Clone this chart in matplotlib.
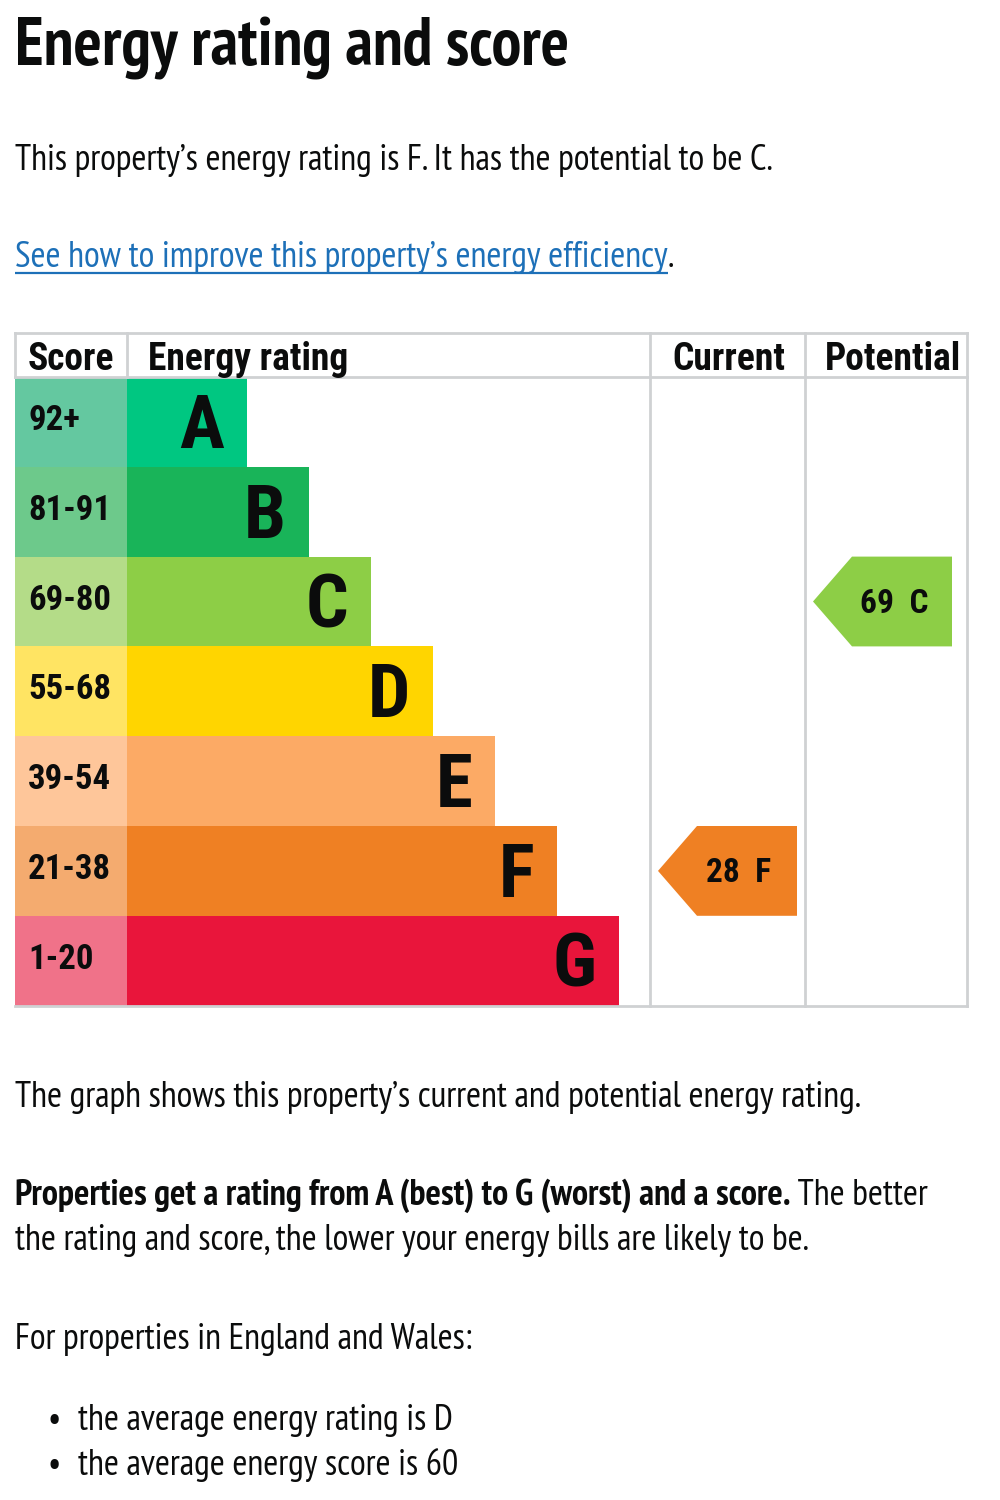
import matplotlib
matplotlib.use('Agg')
import matplotlib.pyplot as plt
from matplotlib.patches import Polygon, Rectangle
from matplotlib import font_manager

# energy bands, best to worst
bands = ['A', 'B', 'C', 'D', 'E', 'F', 'G']
score_ranges = ['92+', '81-91', '69-80', '55-68', '39-54', '21-38', '1-20']
band_colours = ['#00c781', '#19b459', '#8dce46', '#ffd500', '#fcaa65', '#ef8023', '#e9153b']
score_colours = ['#64c8a0', '#6dc98b', '#b4dc88', '#ffe463', '#fec69a', '#f4ab6f', '#f07289']
headers = ['Score', 'Energy rating', 'Current', 'Potential']

current_score, current_band = 28, 'F'
potential_score, potential_band = 69, 'C'
average_band, average_score = 'D', 60


def pick_font(names):
    ''' first installed family of the list '''
    for n in names:
        try:
            font_manager.findfont(n, fallback_to_default=False)
            return n
        except Exception:
            pass
    return 'DejaVu Sans'


body = pick_font(['PT Sans Narrow', 'Roboto Condensed', 'Liberation Sans Narrow', 'Liberation Sans'])
table = pick_font(['Roboto Condensed', 'Liberation Sans Narrow', 'Liberation Sans'])

fig = plt.figure(figsize=(10, 15), dpi=100)
ax = fig.add_axes([0, 0, 1, 1])
ax.set_xlim(0, 1000)
ax.set_ylim(1500, 0)
ax.axis('off')

black = '#0b0c0c'
grey = '#cfd1d3'
link = '#1d70b8'
fs = 26


def line(x, y, s, **kw):
    kw.setdefault('fontsize', fs)
    kw.setdefault('family', body)
    kw.setdefault('color', black)
    return ax.text(x, y, s, va='baseline', **kw)


def right_end(t):
    fig.canvas.draw()
    return t.get_window_extent(fig.canvas.get_renderer()).x1


# --- text above the chart
line(15, 66, 'Energy rating and score', fontsize=48, fontweight='bold')
line(15, 170, "This property\u2019s energy rating is F. It has the potential to be C.")
t = line(15, 267, "See how to improve this property\u2019s energy efficiency", color=link)
x1 = right_end(t)
ax.plot([15, x1], [273, 273], color=link, lw=1.6, solid_capstyle='butt')
line(x1, 267, '.')

# --- table layout
left, score_w = 15, 112
bar0 = left + score_w
top, head_h, row_h = 333, 44, 89.8
cur_x, pot_x, right = 650, 805, 967
bar_base, bar_step = 120, 62
bottom = top + head_h + row_h * len(bands)

for i, b in enumerate(bands):
    y = top + head_h + i * row_h
    ax.add_patch(Rectangle((left, y), score_w, row_h, color=score_colours[i], lw=0))
    ax.barh(y + row_h / 2, bar_base + bar_step * i, left=bar0, height=row_h,
            color=band_colours[i], lw=0)
    ax.text(28, y + 53, score_ranges[i], fontsize=25, fontweight='bold',
            family=table, color=black, va='baseline')
    ax.text(bar0 + bar_base + bar_step * i - 23, y + 71, b, fontsize=54,
            fontweight='bold', family=table, color=black, va='baseline', ha='right')

# grid lines
ax.plot([left, right], [top, top], color=grey, lw=2)
ax.plot([left, right], [top + head_h, top + head_h], color=grey, lw=2)
ax.plot([left, right], [bottom, bottom], color=grey, lw=2)
ax.plot([left, left], [top, top + head_h], color=grey, lw=2)
ax.plot([bar0, bar0], [top, top + head_h], color=grey, lw=2)
for x in [cur_x, pot_x, right]:
    ax.plot([x, x], [top, bottom], color=grey, lw=2)

hx = [28, 148, 672, 825]
for x, h in zip(hx, headers):
    ax.text(x, 370, h, fontsize=27, fontweight='bold', family=table,
            color=black, va='baseline')


def arrow(col_left, score, band):
    ''' pointer for a score, drawn in the row of its band '''
    i = bands.index(band)
    y0 = top + head_h + i * row_h
    y1 = y0 + row_h
    tip = col_left + 8
    body_x = tip + 39
    end = tip + 139
    ax.add_patch(Polygon([(tip, (y0 + y1) / 2), (body_x, y0), (end, y0), (end, y1), (body_x, y1)],
                         closed=True, color=band_colours[i], lw=0))
    ax.text((body_x + end) / 2 - 8, y0 + 56, f'{score}  {band}', fontsize=24,
            fontweight='bold', family=table, color=black, va='baseline', ha='center')


arrow(cur_x, current_score, current_band)
arrow(pot_x, potential_score, potential_band)

# --- text below the chart
line(15, 1107, "The graph shows this property\u2019s current and potential energy rating.")
tb = line(15, 1205, 'Properties get a rating from A (best) to G (worst) and a score.',
          fontweight='bold')
line(right_end(tb), 1205, ' The better')
line(15, 1250, 'the rating and score, the lower your energy bills are likely to be.')
line(15, 1349, 'For properties in England and Wales:')
line(47, 1430, '\u2022')
line(78, 1430, f'the average energy rating is {average_band}')
line(47, 1475, '\u2022')
line(78, 1475, f'the average energy score is {average_score}')

fig.savefig('out.png', dpi=100)
